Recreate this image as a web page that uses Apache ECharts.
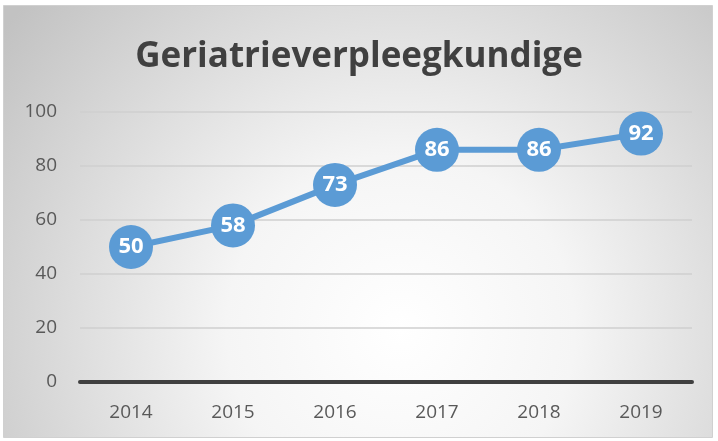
<!DOCTYPE html>
<html>
<head>
<meta charset="utf-8">
<script src="https://cdn.jsdelivr.net/npm/echarts@6/dist/echarts.min.js"></script>
<style>
html,body{margin:0;padding:0;background:#fff;}
#chart{width:718px;height:441px;}
</style>
</head>
<body>
<div id="chart"></div>
<script>
var titleText = 'Geriatrieverpleegkundige';
var categories = ['2014', '2015', '2016', '2017', '2018', '2019'];
var values = [50, 58, 73, 86, 86, 92];
var yMin = 0, yMax = 100, yInterval = 20;

var chart = echarts.init(document.getElementById('chart'), null, {renderer: 'canvas'});
chart.setOption({
  animation: false,
  graphic: [{
    type: 'rect',
    silent: true,
    z: -100,
    shape: {x: 3.5, y: 5.5, width: 709, height: 432},
    style: {
      fill: {
        type: 'radial', x: 0.56, y: 0.75, r: 1.15,
        colorStops: [
          {offset: 0, color: '#ffffff'},
          {offset: 0.35, color: '#f5f5f5'},
          {offset: 1, color: '#c2c2c2'}
        ]
      },
      stroke: '#d0d0d0',
      lineWidth: 1
    }
  }],
  title: {
    text: titleText,
    left: 'center',
    top: 35,
    textStyle: {
      fontFamily: 'Open Sans',
      fontWeight: 'bold',
      fontSize: 35,
      color: '#404040'
    }
  },
  grid: {left: 80, right: 26, top: 112, bottom: 59, containLabel: false},
  xAxis: {
    type: 'category',
    data: categories,
    axisLine: {show: true, lineStyle: {color: '#404040', width: 4}},
    axisTick: {show: false},
    axisLabel: {color: '#595959', fontSize: 19, fontFamily: 'Open Sans', margin: 21}
  },
  yAxis: {
    type: 'value',
    min: yMin, max: yMax, interval: yInterval,
    axisLine: {show: false},
    axisTick: {show: false},
    axisLabel: {color: '#595959', fontSize: 19, fontFamily: 'Open Sans', margin: 23},
    splitLine: {lineStyle: {color: '#cfcfcf', width: 1.5}}
  },
  series: [{
    type: 'line',
    data: values,
    symbol: 'circle',
    symbolSize: 44,
    lineStyle: {color: '#5b9bd5', width: 6},
    itemStyle: {color: '#5b9bd5'},
    label: {
      show: true,
      position: 'inside',
      color: '#ffffff',
      fontWeight: 'bold',
      fontSize: 22,
      fontFamily: 'Open Sans'
    }
  }]
});
</script>
</body>
</html>
